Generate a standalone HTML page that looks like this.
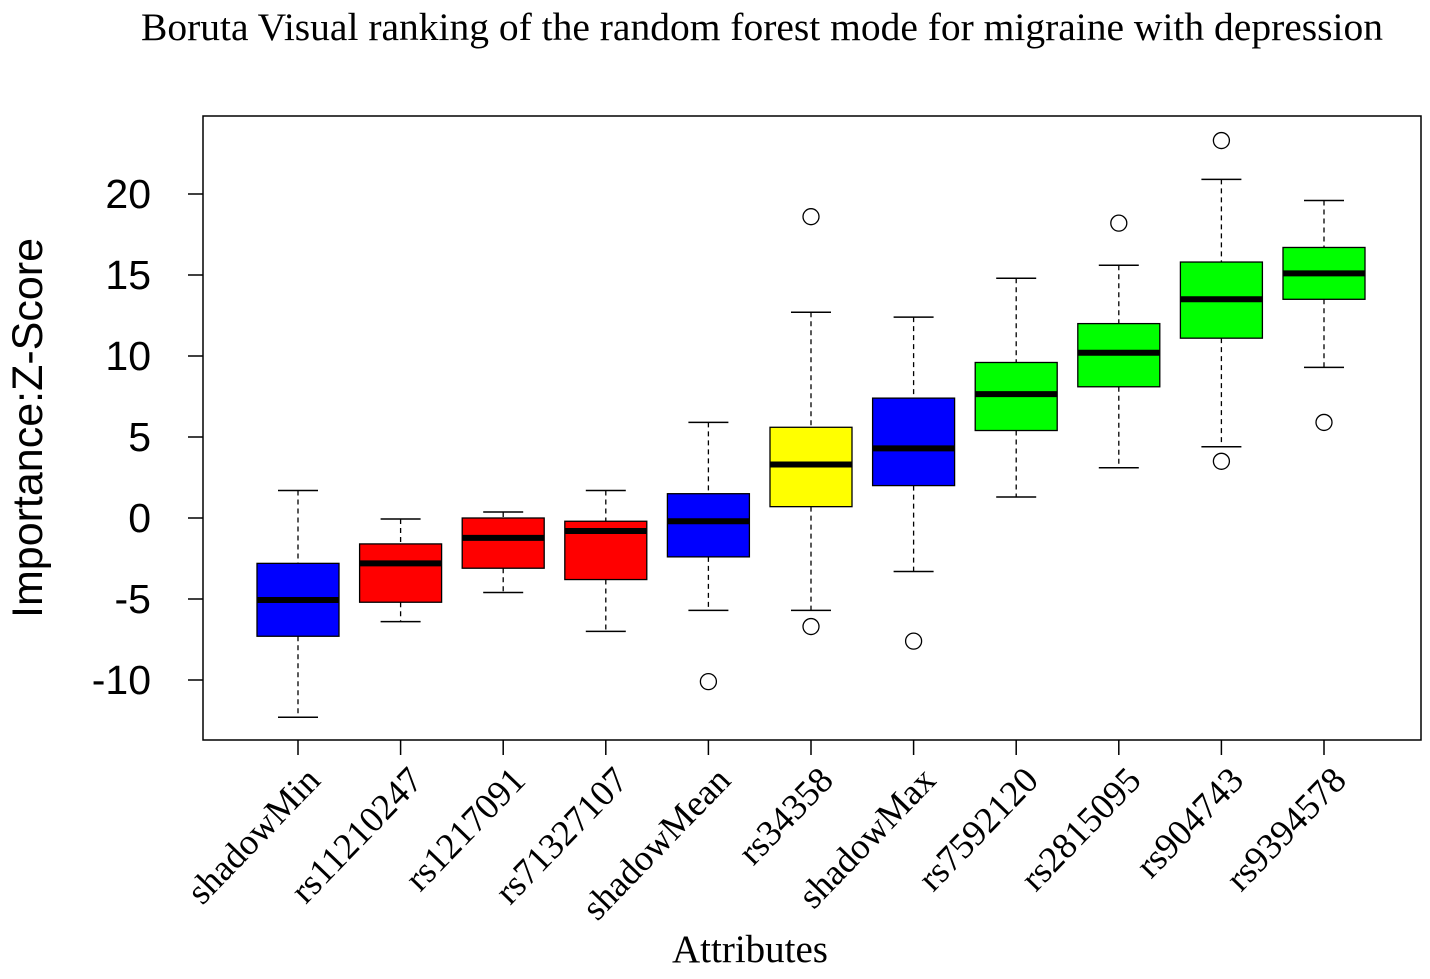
<!DOCTYPE html>
<html><head><meta charset="utf-8"><style>
body{margin:0;background:#fff}
svg text{fill:#000}
</style></head><body>
<svg id="chart" width="1430" height="974" xmlns="http://www.w3.org/2000/svg">
<text x="762" y="40" text-anchor="middle" font-family="Liberation Serif, serif" font-size="39.5">Boruta Visual ranking of the random forest mode for migraine with depression</text>
<rect x="203" y="116" width="1218" height="624" fill="none" stroke="#000" stroke-width="1.5"/>
<text transform="translate(42,428) rotate(-90)" text-anchor="middle" font-family="Liberation Sans, sans-serif" font-size="43">Importance:Z-Score</text>
<text x="750" y="962" text-anchor="middle" font-family="Liberation Serif, serif" font-size="39">Attributes</text>
<g id="yaxis"></g><g id="xaxis"></g><g id="boxes"></g>
</svg>
<script>
const categories=["shadowMin","rs11210247","rs1217091","rs71327107","shadowMean","rs34358","shadowMax","rs7592120","rs2815095","rs904743","rs9394578"];
const colors=["blue","red","red","red","blue","yellow","blue","lime","lime","lime","lime"];
const whiskerLow=[-12.3,-6.4,-4.6,-7.0,-5.7,-5.7,-3.3,1.3,3.1,4.4,9.3];
const q1=[-7.3,-5.2,-3.1,-3.8,-2.4,0.7,2.0,5.4,8.1,11.1,13.5];
const medians=[-5.06,-2.8,-1.23,-0.8,-0.2,3.3,4.3,7.65,10.2,13.5,15.1];
const q3=[-2.8,-1.6,0,-0.2,1.5,5.6,7.4,9.6,12.0,15.8,16.7];
const whiskerHigh=[1.7,-0.06,0.37,1.7,5.9,12.7,12.4,14.8,15.6,20.9,19.6];
const outliers=[[],[],[],[],[-10.1],[18.6,-6.7],[-7.6],[],[18.2],[23.3,3.5],[5.9]];
const yTicks=[-10,-5,0,5,10,15,20];
const NS="http://www.w3.org/2000/svg";
const y=v=>518-16.2*v;
const x=i=>298+i*102.6;
function mk(t,a,p){const e=document.createElementNS(NS,t);for(const k in a)e.setAttribute(k,a[k]);p.appendChild(e);return e;}
const ya=document.getElementById('yaxis');
yTicks.forEach(t=>{
 const l=mk('line',{x1:188,x2:203,y1:y(t),y2:y(t),stroke:'#000','stroke-width':1.5},ya);
 
 
 const tx=mk('text',{x:151,y:y(t)+14,'text-anchor':'end','font-family':'Liberation Sans, sans-serif','font-size':41},ya);
 tx.textContent=t;
 
 
});
const xa=document.getElementById('xaxis');
categories.forEach((c,i)=>{
 const l=mk('line',{x1:x(i),x2:x(i),y1:740,y2:755,stroke:'#000','stroke-width':1.5},xa);
 
 
 const tx=mk('text',{transform:`translate(${x(i)+24},782) rotate(-46)`,'text-anchor':'end','font-family':'Liberation Serif, serif','font-size':36.5},xa);
 tx.textContent=c;
 
 
});
const bx=document.getElementById('boxes');
categories.forEach((c,i)=>{
 const g=mk('g',{},bx);
 
 
 const cx=x(i),hw=41,cw=20;
 mk('line',{x1:cx,x2:cx,y1:y(whiskerHigh[i]),y2:y(q3[i]),stroke:'#000','stroke-dasharray':'5,4','stroke-width':1.3},g);
 mk('line',{x1:cx,x2:cx,y1:y(q1[i]),y2:y(whiskerLow[i]),stroke:'#000','stroke-dasharray':'5,4','stroke-width':1.3},g);
 mk('line',{x1:cx-cw,x2:cx+cw,y1:y(whiskerHigh[i]),y2:y(whiskerHigh[i]),stroke:'#000','stroke-width':1.5},g);
 mk('line',{x1:cx-cw,x2:cx+cw,y1:y(whiskerLow[i]),y2:y(whiskerLow[i]),stroke:'#000','stroke-width':1.5},g);
 mk('rect',{x:cx-hw,y:y(q3[i]),width:2*hw,height:y(q1[i])-y(q3[i]),fill:colors[i],stroke:'#000','stroke-width':1.3},g);
 mk('line',{x1:cx-hw,x2:cx+hw,y1:y(medians[i]),y2:y(medians[i]),stroke:'#000','stroke-width':6},g);
 outliers[i].forEach(o=>{
  const ci=mk('circle',{cx:cx,cy:y(o),r:8,fill:'none',stroke:'#000','stroke-width':1.3},g);
  
  
 });
});
</script>
</body></html>
